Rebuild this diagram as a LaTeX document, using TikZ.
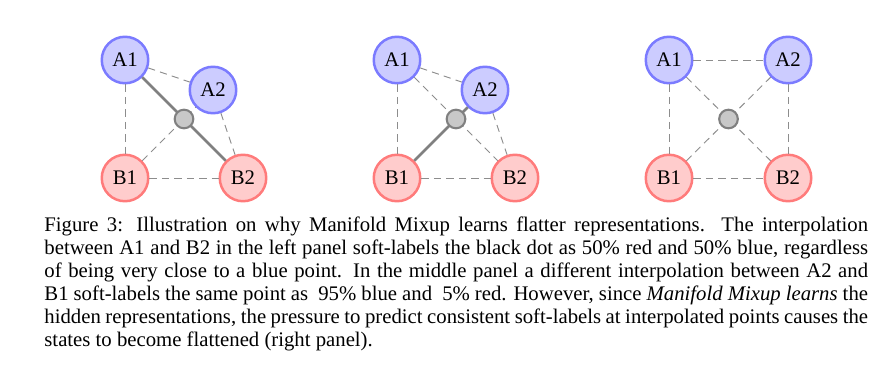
\documentclass[tikz,border=0pt]{standalone}
\usepackage{fontspec}
\setmainfont{Liberation Serif}
\definecolor{ptBlue}{HTML}{7B7BFF}
\definecolor{ptBlueFill}{HTML}{CCCCFF}
\definecolor{ptRed}{HTML}{FF7B7B}
\definecolor{ptRedFill}{HTML}{FFCCCC}
\definecolor{mixGray}{HTML}{808080}
\definecolor{mixFill}{HTML}{C8C8C8}
\usetikzlibrary{calc}

\begin{document}
\begin{tikzpicture}[x=0.482pt, y=-0.482pt,
  pt/.style={circle, line width=1.2pt, minimum size=22.4pt, inner sep=0pt,
    font=\fontsize{10}{11}\selectfont},
  ptA/.style={pt, draw=ptBlue, fill=ptBlueFill},
  ptB/.style={pt, draw=ptRed, fill=ptRedFill},
  mixpt/.style={circle, draw=mixGray, line width=1pt, fill=mixFill,
    minimum size=9pt, inner sep=0pt},
  link/.style={dash pattern=on 3.5pt off 2.5pt, mixGray!90, line width=0.45pt},
  mixline/.style={mixGray, line width=1.3pt},
  caption/.style={text width=397pt, align=justify, inner sep=0pt,
    font=\fontsize{10}{11}\selectfont}]
  \useasboundingbox (0,0) rectangle (893,372);

  % left panel
  \node[ptA] (l1) at (125,60) {A1};
  \node[ptA] (l2) at (213,90) {A2};
  \node[ptB] (lb1) at (125,178) {B1};
  \node[ptB] (lb2) at (243,178) {B2};
  \draw[link] (l1) -- (l2);
  \draw[link] (l1) -- (lb1);
  \draw[link] (lb1) -- (lb2);
  \draw[link] (l2) -- (lb2);
  \draw[link] (lb1) -- (l2);
  \draw[mixline] (l1) -- (lb2);
  \node[mixpt] (lm) at ($(l1.center)!0.5!(lb2.center)$) {};

  % middle panel
  \node[ptA] (m1) at (397,60) {A1};
  \node[ptA] (m2) at (485,90) {A2};
  \node[ptB] (mb1) at (397,178) {B1};
  \node[ptB] (mb2) at (515,178) {B2};
  \draw[link] (m1) -- (m2);
  \draw[link] (m1) -- (mb1);
  \draw[link] (mb1) -- (mb2);
  \draw[link] (m2) -- (mb2);
  \draw[link] (m1) -- (mb2);
  \draw[mixline] (mb1) -- (m2);
  \node[mixpt] (mm) at ($(m1.center)!0.5!(mb2.center)$) {};

  % right panel
  \node[ptA] (r1) at (669,60) {A1};
  \node[ptA] (r2) at (788,60) {A2};
  \node[ptB] (rb1) at (669,178) {B1};
  \node[ptB] (rb2) at (788,178) {B2};
  \draw[link] (r1) -- (r2);
  \draw[link] (r1) -- (rb1);
  \draw[link] (rb1) -- (rb2);
  \draw[link] (r2) -- (rb2);
  \draw[link] (r1) -- (rb2);
  \draw[link] (rb1) -- (r2);
  \node[mixpt] (rm) at ($(r1.center)!0.5!(rb2.center)$) {};

  \node[caption, anchor=base west] (cap) at (44,232) {Figure 3: Illustration on
    why Manifold Mixup learns flatter representations. The interpolation\linebreak
    between A1 and B2 in the left panel soft-labels the black dot as 50\% red and
    50\% blue, regardless\linebreak
    of being very close to a blue point. In the middle panel a different
    interpolation between A2 and\linebreak
    B1 soft-labels the same point as \ 95\% blue and \ 5\% red. However, since
    \emph{Manifold Mixup learns} the\linebreak
    hidden representations, the pressure to predict consistent soft-labels at
    interpolated points causes the\linebreak
    states to become flattened (right panel).};
\end{tikzpicture}
\end{document}
